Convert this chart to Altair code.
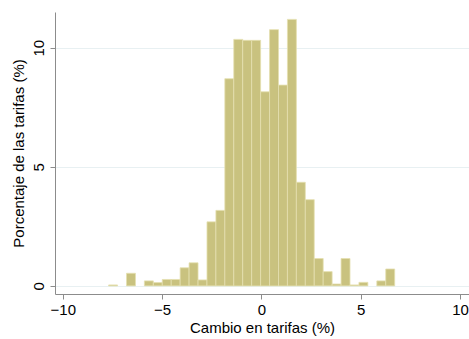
import altair as alt
import pandas as pd

# Histogram of tariff changes: left bin edges (%) and share of tariffs (%)
bin_left = [-7.69, -7.24, -6.79, -6.34, -5.89, -5.44, -4.99, -4.54, -4.09, -3.64,
            -3.19, -2.74, -2.29, -1.84, -1.39, -0.94, -0.49, -0.04, 0.41, 0.86,
            1.31, 1.76, 2.21, 2.66, 3.11, 3.56, 4.01, 4.46, 4.91, 5.36,
            5.81, 6.26]
pct = [0.04, 0.0, 0.53, 0.0, 0.21, 0.14, 0.27, 0.27, 0.76, 0.97,
       0.25, 2.69, 3.17, 8.70, 10.35, 10.31, 10.31, 8.15, 10.76, 8.43,
       11.19, 4.35, 3.62, 1.15, 0.60, 0.08, 1.15, 0.04, 0.15, 0.0,
       0.21, 0.71]
bin_width = 0.45

df = pd.DataFrame({"lo": bin_left, "pct": pct})
df["hi"] = df["lo"] + bin_width
df = df[df["pct"] > 0]

FONT = "Liberation Sans"

bars = alt.Chart(df).mark_rect(
    color="#C9C27F", stroke="#E4DFB0", strokeWidth=0.8
).encode(
    x=alt.X("lo:Q",
            scale=alt.Scale(domain=[-10.39, 10.45], nice=False, zero=False),
            axis=alt.Axis(values=[-10, -5, 0, 5, 10], title="Cambio en tarifas (%)",
                          grid=False, tickSize=5, labelPadding=3, titlePadding=3)),
    x2="hi:Q",
    y=alt.Y("pct:Q",
            scale=alt.Scale(domain=[-0.34, 11.5], nice=False, zero=False),
            axis=alt.Axis(values=[0, 5, 10], title="Porcentaje de las tarifas (%)",
                          grid=True, gridColor="#E8F0F2", gridWidth=1,
                          tickSize=5, labelAngle=270, labelAlign="center",
                          labelBaseline="bottom", labelPadding=4, titlePadding=5)),
    y2=alt.Y2(datum=0),
)

chart = bars.properties(
    width=414, height=282,
    autosize=alt.AutoSizeParams(type="none"),
    padding={"left": 55, "top": 12, "right": 0, "bottom": 45},
    background="white",
).configure_view(
    stroke=None
).configure_axis(
    domainColor="#8C8C8C", tickColor="#8C8C8C", domainWidth=1,
    labelFont=FONT, titleFont=FONT, labelFontSize=15, titleFontSize=15,
    labelColor="#000000", titleColor="#000000", titleFontWeight="normal",
)

chart.save("out.html", embed_options={"renderer": "svg", "actions": False})
